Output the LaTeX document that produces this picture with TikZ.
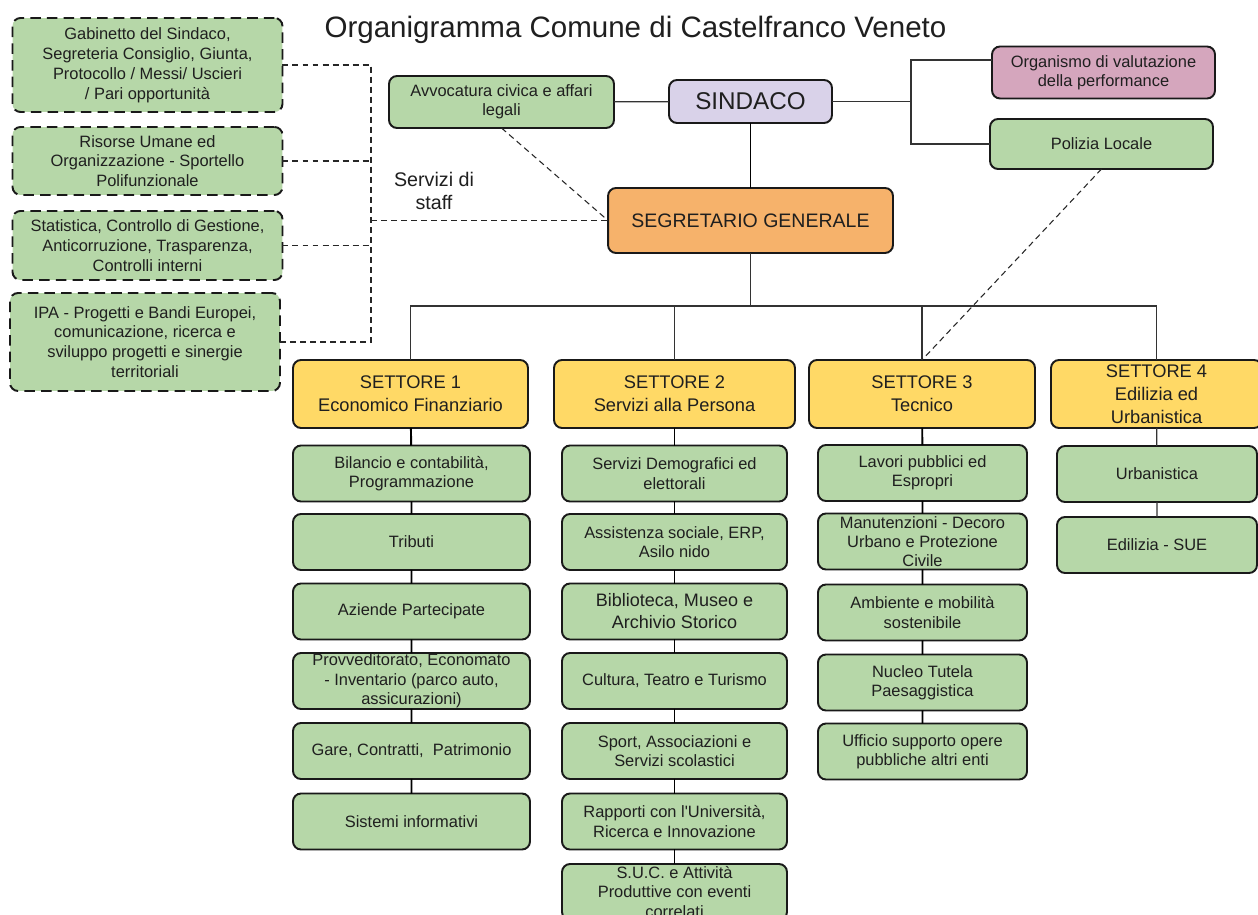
\documentclass[tikz,border=0pt]{standalone}
\usepackage{fontspec}
\setmainfont{Liberation Sans}
\definecolor{grn}{HTML}{B6D7A8}
\definecolor{lav}{HTML}{D9D2E9}
\definecolor{pnk}{HTML}{D5A6BD}
\definecolor{org}{HTML}{F6B26B}
\definecolor{yel}{HTML}{FFD966}
\tikzset{
  box/.style={draw=black!90, line width=1.1pt, rounded corners=0.16cm, align=center,
    inner sep=0pt, outer sep=0pt, text=black!88, font=\fontsize{9.35}{11}\selectfont},
  sub/.style={box, fill=grn, minimum height=1.12cm},
  staffbox/.style={box, fill=grn, dash pattern=on 6pt off 3.5pt, minimum width=5.4cm, font=\fontsize{9.35}{11.3}\selectfont},
  settore/.style={box, fill=yel, minimum height=1.36cm, font=\fontsize{10.4}{13}\selectfont},
  link/.style={draw=black!80, line width=0.7pt},
  chain/.style={draw=black, line width=1.1pt},
  staff/.style={draw=black!85, line width=0.6pt, dash pattern=on 3.4pt off 2.3pt},
}
\begin{document}
\begin{tikzpicture}[x=0.02cm, y=-0.02cm]
	\useasboundingbox (0,0) rectangle (1258,915);
	\fill[white] (0,0) rectangle (1258,915);
	\node[anchor=base, font=\fontsize{16.8}{20}\selectfont, text=black!88] (title) at (635.5,37.5) {Organigramma Comune di Castelfranco Veneto};
	% servizi di staff
	\node[staffbox, minimum height=1.88cm] (g1) at (147.5,65) {Gabinetto del Sindaco,\\Segreteria Consiglio, Giunta,\\Protocollo / Messi/ Uscieri\\/ Pari opportunità};
	\node[staffbox, minimum height=1.36cm] (g2) at (147.5,161) {Risorse Umane ed\\Organizzazione - Sportello\\Polifunzionale};
	\node[staffbox, minimum height=1.38cm] (g3) at (147.5,245.5) {Statistica, Controllo di Gestione,\\Anticorruzione, Trasparenza,\\Controlli interni};
	\node[staffbox, minimum height=1.96cm] (g4) at (145,342) {IPA - Progetti e Bandi Europei,\\comunicazione, ricerca e\\sviluppo progetti e sinergie\\territoriali};
	\node[align=center, font=\fontsize{11.2}{13}\selectfont, text=black!88] (stafflbl) at (434,191) {Servizi di\\staff};
	% vertice
	\node[box, fill=grn, minimum width=4.5cm, minimum height=1.04cm] (avv) at (501.5,102) {Avvocatura civica e affari\\legali};
	\node[box, fill=lav, minimum width=3.26cm, minimum height=0.86cm, font=\fontsize{13.8}{16}\selectfont] (sind) at (750.5,101.5) {SINDACO};
	\node[box, fill=pnk, minimum width=4.46cm, minimum height=1.04cm] (orgv) at (1103.5,72.5) {Organismo di valutazione\\della performance};
	\node[box, fill=grn, minimum width=4.46cm, minimum height=1.0cm] (pol) at (1101.5,144) {Polizia Locale};
	\node[box, fill=org, minimum width=5.7cm, minimum height=1.3cm, font=\fontsize{11.1}{13}\selectfont] (seg) at (750.5,220.5) {SEGRETARIO GENERALE};
	% settori
	\node[settore, minimum width=4.7cm] (s1) at (410.5,394) {SETTORE 1\\Economico Finanziario};
	\node[settore, minimum width=4.82cm] (s2) at (674.5,394) {SETTORE 2\\Servizi alla Persona};
	\node[settore, minimum width=4.52cm] (s3) at (922,394) {SETTORE 3\\Tecnico};
	\node[settore, minimum width=4.22cm] (s4) at (1156.5,394) {SETTORE 4\\Edilizia ed\\Urbanistica};
	% settore 1
	\node[sub, minimum width=4.74cm] (b11) at (411.5,473.5) {Bilancio e contabilità,\\Programmazione};
	\node[sub, minimum width=4.74cm] (b12) at (411.5,542) {Tributi};
	\node[sub, minimum width=4.74cm] (b13) at (411.5,611.5) {Aziende Partecipate};
	\node[sub, minimum width=4.74cm] (b14) at (411.5,681) {Provveditorato, Economato\\- Inventario (parco auto,\\assicurazioni)};
	\node[sub, minimum width=4.74cm] (b15) at (411.5,751) {Gare, Contratti, \ Patrimonio};
	\node[sub, minimum width=4.74cm] (b16) at (411.5,821.5) {Sistemi informativi};
	% settore 2
	\node[sub, minimum width=4.5cm] (b21) at (674.5,473.5) {Servizi Demografici ed\\elettorali};
	\node[sub, minimum width=4.5cm] (b22) at (674.5,542) {Assistenza sociale, ERP,\\Asilo nido};
	\node[sub, minimum width=4.5cm, font=\fontsize{10.26}{12.5}\selectfont] (b23) at (674.5,611.5) {Biblioteca, Museo e\\Archivio Storico};
	\node[sub, minimum width=4.5cm] (b24) at (674.5,681) {Cultura, Teatro e Turismo};
	\node[sub, minimum width=4.5cm] (b25) at (674.5,751) {Sport, Associazioni e\\Servizi scolastici};
	\node[sub, minimum width=4.5cm] (b26) at (674.5,821.5) {Rapporti con l{\textquotesingle}Università,\\Ricerca e Innovazione};
	\node[sub, minimum width=4.5cm] (b27) at (674.5,892) {S.U.C. e Attività\\Produttive con eventi\\correlati};
	% settore 3
	\node[sub, minimum width=4.18cm] (b31) at (922.5,473) {Lavori pubblici ed\\Espropri};
	\node[sub, minimum width=4.18cm] (b32) at (922.5,541.5) {Manutenzioni - Decoro\\Urbano e Protezione\\Civile};
	\node[sub, minimum width=4.18cm] (b33) at (922.5,612.5) {Ambiente e mobilità\\sostenibile};
	\node[sub, minimum width=4.18cm] (b34) at (922.5,682.5) {Nucleo Tutela\\Paesaggistica};
	\node[sub, minimum width=4.18cm] (b35) at (922.5,751.5) {Ufficio supporto opere\\pubbliche altri enti};
	% settore 4
	\node[sub, minimum width=4.0cm] (b41) at (1157,474) {Urbanistica};
	\node[sub, minimum width=4.0cm] (b42) at (1157,545) {Edilizia - SUE};
	% collegamenti vertice
	\draw[link] (avv) -- (sind);
	\draw[chain] (sind) -- (seg);
	\coordinate (rj) at (911,101.5);
	\coordinate (rjt) at (911,60);
	\draw[link] (sind.east) -- (rj);
	\draw[link] (rjt -| orgv.west) -- (rjt) |- (pol.west);
	\coordinate (bus) at (750.5,306);
	\draw[link] (seg.south) -- (bus);
	\draw[link] (bus) -| (s1.north);
	\draw[link] (bus) -| (s2.north);
	\draw[link] (bus) -| (s3.north);
	\draw[link] (bus) -| (s4.north);
	% collegamenti staff
	\coordinate (stv) at (371,220.5);
	\draw[staff] (g1.east) -| (stv);
	\draw[staff] (g4.east) -| (stv);
	\draw[staff] (g2.east) -- (g2.east -| stv);
	\draw[staff] (g3.east) -- (g3.east -| stv);
	\draw[staff] (stv) -- (seg.west);
	\draw[staff] (avv.south) -- (seg.west);
	\draw[staff] (pol.south) -- (s3.north);
	% uffici
	\draw[chain] (s1) -- (b11) (b11) -- (b12) (b12) -- (b13) (b13) -- (b14) (b14) -- (b15) (b15) -- (b16);
	\draw[chain] (s2) -- (b21) (b21) -- (b22) (b22) -- (b23) (b23) -- (b24) (b24) -- (b25) (b25) -- (b26) (b26) -- (b27);
	\draw[chain] (s3) -- (b31) (b31) -- (b32) (b32) -- (b33) (b33) -- (b34) (b34) -- (b35);
	\draw[link] (s4) -- (b41) (b41) -- (b42);
\end{tikzpicture}
\end{document}
